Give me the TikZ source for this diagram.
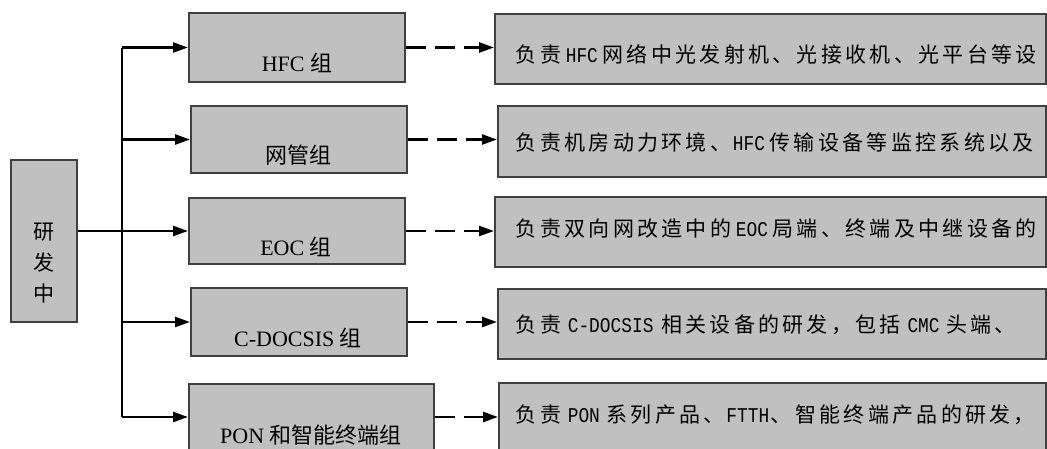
\documentclass[tikz,border=0pt]{standalone}
\usepackage{fontspec}
\setmainfont{Liberation Serif}
\newfontfamily\cjk{Noto Sans CJK SC}
\newfontfamily\dmono[FakeStretch=0.85]{Liberation Mono}
\usetikzlibrary{arrows.meta}
\definecolor{boxfill}{HTML}{C0C0C0}
\definecolor{boxline}{HTML}{404040}
\makeatletter
\newcommand\cjs[1]{\@tfor\cj@ch:=#1\do{\makebox[24.3pt][c]{\cj@ch}}}
\makeatother
\newcommand\lat[3]{\hspace{#1pt}{\dmono #3}\hspace{#2pt}}
\tikzset{
  box/.style={draw=boxline, fill=boxfill, line width=2pt, inner sep=0pt, rectangle},
  midtext/.style={font=\fontsize{22}{26}\selectfont, inner sep=0pt},
  desctext/.style={font=\fontsize{21}{25}\selectfont\cjk, inner sep=0pt, anchor=west},
  solidarrow/.style={line width=2.5pt, -{Triangle[length=15pt,width=10pt]}},
  dasharrow/.style={line width=2.5pt, dash pattern=on 20pt off 9pt, -{Triangle[length=15pt,width=10pt]}},
  trunkline/.style={line width=2pt}
}
\begin{document}
\begin{tikzpicture}[x=1pt,y=-1pt]
\useasboundingbox (0,0) rectangle (1047,448);
\begin{scope}
\clip (0,0) rectangle (1047,448);
% boxes
\node[box, minimum width=66pt, minimum height=162pt] (root) at (44,241) {};
\node[box, minimum width=216pt, minimum height=69pt] (hfc) at (297,47.5) {};
\node[box, minimum width=216pt, minimum height=67pt] (wg) at (299,139.5) {};
\node[box, minimum width=216pt, minimum height=66pt] (eoc) at (297,231) {};
\node[box, minimum width=216pt, minimum height=68pt] (cdoc) at (299,322) {};
\node[box, minimum width=245pt, minimum height=66pt] (pon) at (311.5,417) {};
\node[box, minimum width=551pt, minimum height=70pt] (d1) at (770.5,49) {};
\node[box, minimum width=548pt, minimum height=71pt] (d2) at (772,141.5) {};
\node[box, minimum width=551pt, minimum height=70pt] (d3) at (770.5,232) {};
\node[box, minimum width=548pt, minimum height=70pt] (d4) at (772,324) {};
\node[box, minimum width=547pt, minimum height=67pt] (d5) at (772.5,416.5) {};
% labels
\node[inner sep=0pt, align=center, font=\cjk\fontsize{21}{31}\selectfont] (troot) at (44,263) {研\\发\\中};
\node[midtext] (thfc) at (297,63) {HFC {\cjk 组}};
\node[midtext] (twg) at (298,155) {\cjk 网管组};
\node[midtext] (teoc) at (296,247) {EOC {\cjk 组}};
\node[midtext] (tcdoc) at (298,338) {C-DOCSIS {\cjk 组}};
\node[midtext] (tpon) at (311,435) {PON {\cjk 和智能终端组}};
\node[desctext] (td1) at (514,54) {\cjs{负责}\lat{3}{3}{HFC}\cjs{网络中光发射机、光接收机、光平台等设}};
\node[desctext] (td2) at (514,143) {\cjs{负责机房动力环境、}\lat{0}{3}{HFC}\cjs{传输设备等监控系统以及}};
\node[desctext] (td3) at (514,228.5) {\cjs{负责双向网改造中的}\lat{3}{3}{EOC}\cjs{局端、终端及中继设备的}};
\node[desctext] (td4) at (514,325) {\cjs{负责}\lat{5}{6}{C-DOCSIS}\cjs{相关设备的研发，包括}\lat{5}{5}{CMC}\cjs{头端、}};
\node[desctext] (td5) at (514,415) {\cjs{负责}\lat{5}{5}{PON}\cjs{系列产品、}\lat{0}{0}{FTTH}\cjs{、智能终端产品的研发，}};
% trunk
\coordinate (ttop) at (122,47.5);
\coordinate (tbot) at (122,417);
\draw[trunkline] (ttop) -- (tbot);
\draw[solidarrow] (ttop) -- (hfc.west);
\draw[solidarrow] (wg.west -| ttop) -- (wg.west);
\draw[solidarrow] (eoc.west -| root.east) -- (eoc.west);
\draw[solidarrow] (cdoc.west -| ttop) -- (cdoc.west);
\draw[solidarrow] (tbot) -- (pon.west);
% dashed
\draw[dasharrow] (hfc.east) -- (hfc.east -| d1.west);
\draw[dasharrow] (wg.east) -- (wg.east -| d2.west);
\draw[dasharrow] (eoc.east) -- (eoc.east -| d3.west);
\draw[dasharrow] (cdoc.east) -- (cdoc.east -| d4.west);
\draw[dasharrow] (pon.east) -- (pon.east -| d5.west);
\end{scope}
\end{tikzpicture}
\end{document}
